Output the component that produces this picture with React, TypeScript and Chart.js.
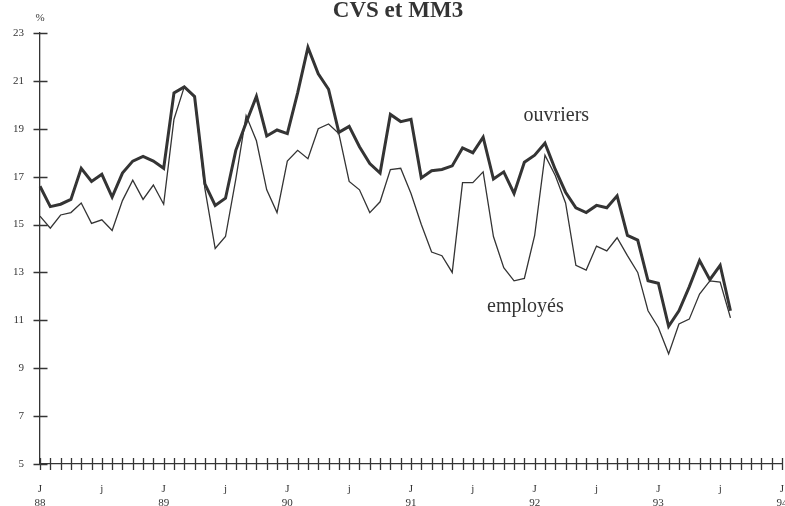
import React, { useEffect, useRef } from "react";
import { Chart, registerables } from "chart.js";

Chart.register(...registerables);

// ---- data ----
const years = ["88", "89", "90", "91", "92", "93", "94"];
const titleText = "CVS et MM3";
const unitText = "%";
const seriesNames = ["ouvriers", "employés"];
const yTickValues = [5, 7, 9, 11, 13, 15, 17, 19, 21, 23];

// monthly values from January 1988
const ouvriers = [
  16.6, 15.75, 15.85, 16.05, 17.35, 16.8, 17.1, 16.15, 17.15, 17.65, 17.85, 17.65,
  17.35, 20.5, 20.75, 20.35, 16.7, 15.8, 16.1, 18.1, 19.25, 20.35, 18.7, 18.95,
  18.8, 20.5, 22.4, 21.3, 20.65, 18.85, 19.1, 18.25, 17.55, 17.15, 19.6, 19.3,
  19.4, 16.95, 17.25, 17.3, 17.45, 18.2, 18.0, 18.65, 16.9, 17.2, 16.3, 17.6,
  17.9, 18.4, 17.3, 16.35, 15.7, 15.5, 15.8, 15.7, 16.2, 14.55, 14.35, 12.65,
  12.55, 10.75, 11.4, 12.4, 13.5, 12.7, 13.3, 11.4,
];
const employes = [
  15.35, 14.85, 15.4, 15.5, 15.9, 15.05, 15.2, 14.75, 16.0, 16.85, 16.05, 16.65,
  15.85, 19.4, 20.75, 20.3, 16.5, 14.0, 14.5, 16.9, 19.55, 18.5, 16.45, 15.5,
  17.65, 18.1, 17.75, 19.0, 19.2, 18.8, 16.8, 16.45, 15.5, 15.95, 17.3, 17.35,
  16.3, 15.0, 13.85, 13.7, 13.0, 16.75, 16.75, 17.2, 14.5, 13.2, 12.65, 12.75,
  14.55, 17.9, 17.05, 15.9, 13.3, 13.1, 14.1, 13.9, 14.45, 13.7, 13.0, 11.4,
  10.7, 9.6, 10.85, 11.05, 12.1, 12.65, 12.6, 11.1,
];
// where the series names sit (month index, value)
const ouvriersLabelAt = [50.1, 19.55];
const employesLabelAt = [47.1, 11.55];

// month tick labels: "J"+year at January, "j" at July
const monthLabels: (string | string[])[] = [];
for (let y = 0; y < years.length; y++) {
  for (let m = 0; m < 12; m++) {
    if (y === years.length - 1 && m > 0) break;
    monthLabels.push(m === 0 ? ["J", years[y]] : m === 6 ? "j" : "");
  }
}

const INK = "#343434";
const SERIF = "'Liberation Serif', 'Times New Roman', serif";

const decorPlugin = {
  id: "decor",
  afterDraw(chart: any) {
    const { ctx, scales } = chart;
    const xs = scales.x;
    const ys = scales.y;
    ctx.save();
    ctx.strokeStyle = INK;
    ctx.lineWidth = 1.3;
    // x ticks crossing the axis
    const yb = ys.getPixelForValue(5);
    ctx.beginPath();
    for (let i = 0; i < monthLabels.length; i++) {
      const px = Math.round(xs.getPixelForValue(i)) + 0.5;
      ctx.moveTo(px, yb - 6);
      ctx.lineTo(px, yb + 6);
    }
    // y ticks crossing the axis
    const xl = xs.getPixelForValue(0);
    for (const v of yTickValues) {
      const py = Math.round(ys.getPixelForValue(v)) + 0.5;
      ctx.moveTo(xl - 6.5, py);
      ctx.lineTo(xl + 7.5, py);
    }
    ctx.stroke();

    ctx.fillStyle = INK;
    // title
    ctx.font = `bold 23px ${SERIF}`;
    ctx.textAlign = "center";
    ctx.textBaseline = "alphabetic";
    ctx.fillText(titleText, 398, 17);
    // unit
    ctx.font = `11px ${SERIF}`;
    ctx.fillText(unitText, xl, 21);
    // series names
    ctx.font = `20px ${SERIF}`;
    ctx.textBaseline = "middle";
    ctx.fillText(seriesNames[0], xs.getPixelForValue(ouvriersLabelAt[0]), ys.getPixelForValue(ouvriersLabelAt[1]));
    ctx.fillText(seriesNames[1], xs.getPixelForValue(employesLabelAt[0]), ys.getPixelForValue(employesLabelAt[1]));
    ctx.restore();
  },
};

export default function App() {
  const ref = useRef<HTMLCanvasElement | null>(null);
  useEffect(() => {
    if (!ref.current) return;
    const chart = new Chart(ref.current, {
      type: "line",
      data: {
        labels: monthLabels,
        datasets: [
          {
            label: seriesNames[0],
            data: ouvriers,
            borderColor: INK,
            borderWidth: 3,
            pointRadius: 0,
            tension: 0,
            fill: false,
          },
          {
            label: seriesNames[1],
            data: employes,
            borderColor: INK,
            borderWidth: 1.3,
            pointRadius: 0,
            tension: 0,
            fill: false,
          },
        ],
      },
      options: {
        animation: false,
        responsive: false,
        maintainAspectRatio: false,
        layout: { padding: { top: 33, right: 3, left: 0, bottom: 0 }, autoPadding: false },
        plugins: {
          legend: { display: false },
          title: { display: false },
          tooltip: { enabled: false },
        },
        scales: {
          x: {
            type: "category",
            offset: false,
            afterFit: (s: any) => {
              s.height = 42;
              s.paddingLeft = 0;
              s.paddingRight = 0;
            },
            grid: { display: false, drawTicks: false },
            border: { display: true, color: INK, width: 1.3 },
            ticks: {
              autoSkip: false,
              maxRotation: 0,
              minRotation: 0,
              padding: 18,
              color: INK,
              font: { family: SERIF, size: 11, lineHeight: 1.3 },
            },
          },
          y: {
            type: "linear",
            min: 5,
            max: 23,
            afterFit: (s: any) => {
              s.width = 40;
              s.paddingTop = 0;
              s.paddingBottom = 0;
            },
            afterBuildTicks: (s: any) => {
              s.ticks = yTickValues.map((v) => ({ value: v }));
            },
            grid: { display: false, drawTicks: false },
            border: { display: true, color: INK, width: 1.3 },
            ticks: {
              padding: 16,
              color: INK,
              font: { family: SERIF, size: 11 },
            },
          },
        },
      },
      plugins: [decorPlugin],
    });
    return () => chart.destroy();
  }, []);
  return (
    <div style={{ position: "fixed", left: 0, top: 0, width: 785, height: 506, background: "#fff" }}>
      <canvas ref={ref} width={785} height={506} style={{ display: "block" }} />
    </div>
  );
}
